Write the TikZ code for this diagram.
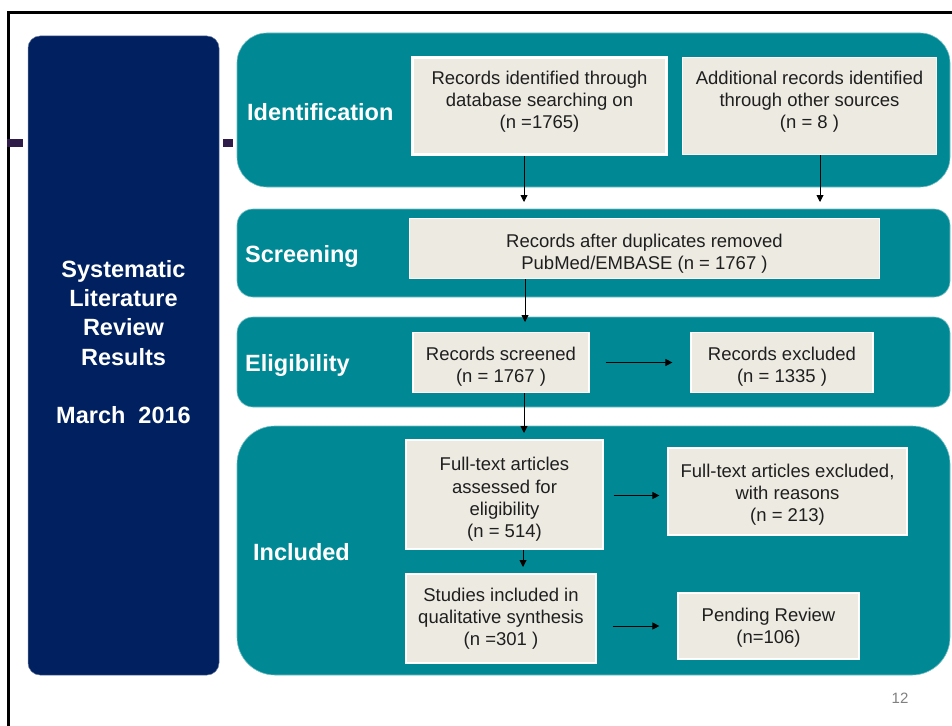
\documentclass[tikz,border=0pt]{standalone}
\usepackage{fontspec}
\setmainfont{Liberation Sans}
\usetikzlibrary{arrows.meta}
\definecolor{navy}{RGB}{0,32,96}
\definecolor{tealp}{RGB}{0,137,148}
\definecolor{beige}{RGB}{237,234,225}
\definecolor{markc}{RGB}{48,28,72}
\begin{document}
\begin{tikzpicture}[x=1pt,y=-1pt,
 panel/.style={fill=tealp, draw=tealp!55!white, line width=0.6pt, inner sep=0pt},
 box/.style={fill=beige, draw=white, line width=1.2pt, inner sep=0pt},
 txt/.style={inner sep=0pt, align=center, text=black!88, font=\fontsize{18.5}{22.2}\selectfont},
 lab/.style={anchor=base west, text=white, font=\bfseries\fontsize{23.5}{28}\selectfont, inner sep=0pt},
 arr/.style={-{Triangle[length=7pt,width=7pt]}, line width=0.9pt, black}
]
\useasboundingbox (0,0) rectangle (952,725);
% frame
\draw[line width=2.2pt] (8.5,730) -- (8.5,12.5) -- (960,12.5);
% side panel
\node[fill=navy, draw=navy!60!white, line width=0.5pt, rounded corners=12pt, minimum width=191pt, minimum height=639pt, inner sep=0pt] (side) at (123.5,355.5) {};
\node[text=white, align=center, inner sep=0pt, font=\bfseries\fontsize{23.5}{29.3}\selectfont] (title) at (123.5,342) {Systematic\\Literature\\Review\\Results\\[29.3pt]March\ \ 2016};
% marks
\fill[markc] (7,139) rectangle (23,147);
\fill[markc] (223,139) rectangle (233,147);
% stage panels
\node[panel, rounded corners=30pt, minimum width=713pt, minimum height=154pt] (pid) at (593.5,110) {};
\node[panel, rounded corners=16pt, minimum width=713pt, minimum height=88pt] (pscr) at (593.5,253) {};
\node[panel, rounded corners=16pt, minimum width=713pt, minimum height=90pt] (pel) at (593.5,362) {};
\node[panel, rounded corners=38pt, minimum width=713pt, minimum height=249pt] (pinc) at (593.5,550.5) {};
% stage labels
\node[lab] (lid) at (247,120.7) {Identification};
\node[lab] (lscr) at (245,262) {Screening};
\node[lab] (lel) at (245,371) {Eligibility};
\node[lab] (linc) at (253,560) {Included};
% boxes
\node[box, line width=3pt, minimum width=254pt, minimum height=97pt] (id1) at (539.5,106) {};
\node[box, minimum width=254pt, minimum height=97pt] (id2) at (809.5,106) {};
\node[box, minimum width=470pt, minimum height=60pt] (scr) at (644.5,248.5) {};
\node[box, minimum width=176pt, minimum height=60pt] (el1) at (501,362.5) {};
\node[box, minimum width=182pt, minimum height=60pt] (el2) at (782,362.5) {};
\node[box, minimum width=197pt, minimum height=109pt] (ft1) at (504.5,494.5) {};
\node[box, minimum width=239pt, minimum height=87pt] (ft2) at (787.5,491.5) {};
\node[box, minimum width=190pt, minimum height=89pt] (st) at (501,618.5) {};
\node[box, minimum width=181pt, minimum height=66pt] (pend) at (768.5,626) {};
% box texts
\node[txt] (id1t) at ([yshift=4pt]id1.center) {Records identified through\\database searching on\\(n =1765)};
\node[txt] (id2t) at ([yshift=4pt]id2.center) {Additional records identified\\through other sources\\(n = 8 )};
\node[txt] (scrt) at ([yshift=-5pt]scr.center) {Records after duplicates removed\\PubMed/EMBASE (n = 1767 )};
\node[txt] (el1t) at ([yshift=-4pt]el1.center) {Records screened\\(n = 1767 )};
\node[txt] (el2t) at ([yshift=-4pt]el2.center) {Records excluded\\(n = 1335 )};
\node[txt] (ft1t) at ([yshift=-5pt]ft1.center) {Full-text articles\\assessed for\\eligibility\\(n = 514)};
\node[txt] (ft2t) at ([yshift=-3pt]ft2.center) {Full-text articles excluded,\\with reasons\\(n = 213)};
\node[txt] (stt) at (st.center) {Studies included in\\qualitative synthesis\\(n =301 )};
\node[txt] (pendt) at ([yshift=-2pt]pend.center) {Pending Review\\(n=106)};
% page number
\node[anchor=base, text=black!50, inner sep=0pt, font=\fontsize{15}{18}\selectfont] (pg) at (900,703) {12};
% connectors
\coordinate (a1) at (524,202);
\coordinate (a2) at (820,202);
\coordinate (a3) at (525,322);
\coordinate (a4) at (524,433);
\coordinate (a5) at (660,495.5);
\coordinate (a6) at (523,567);
\draw[arr] (a1 |- id1.south) -- (a1);
\draw[arr] (a2 |- id2.south) -- (a2);
\draw[arr] (a3 |- scr.south) -- (a3);
\draw[arr] (a4 |- el1.south) -- (a4);
\draw[arr, shorten <=16pt, shorten >=18pt] (el1) -- (el2);
\draw[arr, shorten <=10pt, shorten >=8pt] (ft1.east |- a5) -- (ft2.west |- a5);
\draw[arr] (a6 |- ft1.south) -- (a6);
\draw[arr, shorten <=16pt, shorten >=18pt] (st.east |- pend.west) -- (pend.west);
\end{tikzpicture}
\end{document}
